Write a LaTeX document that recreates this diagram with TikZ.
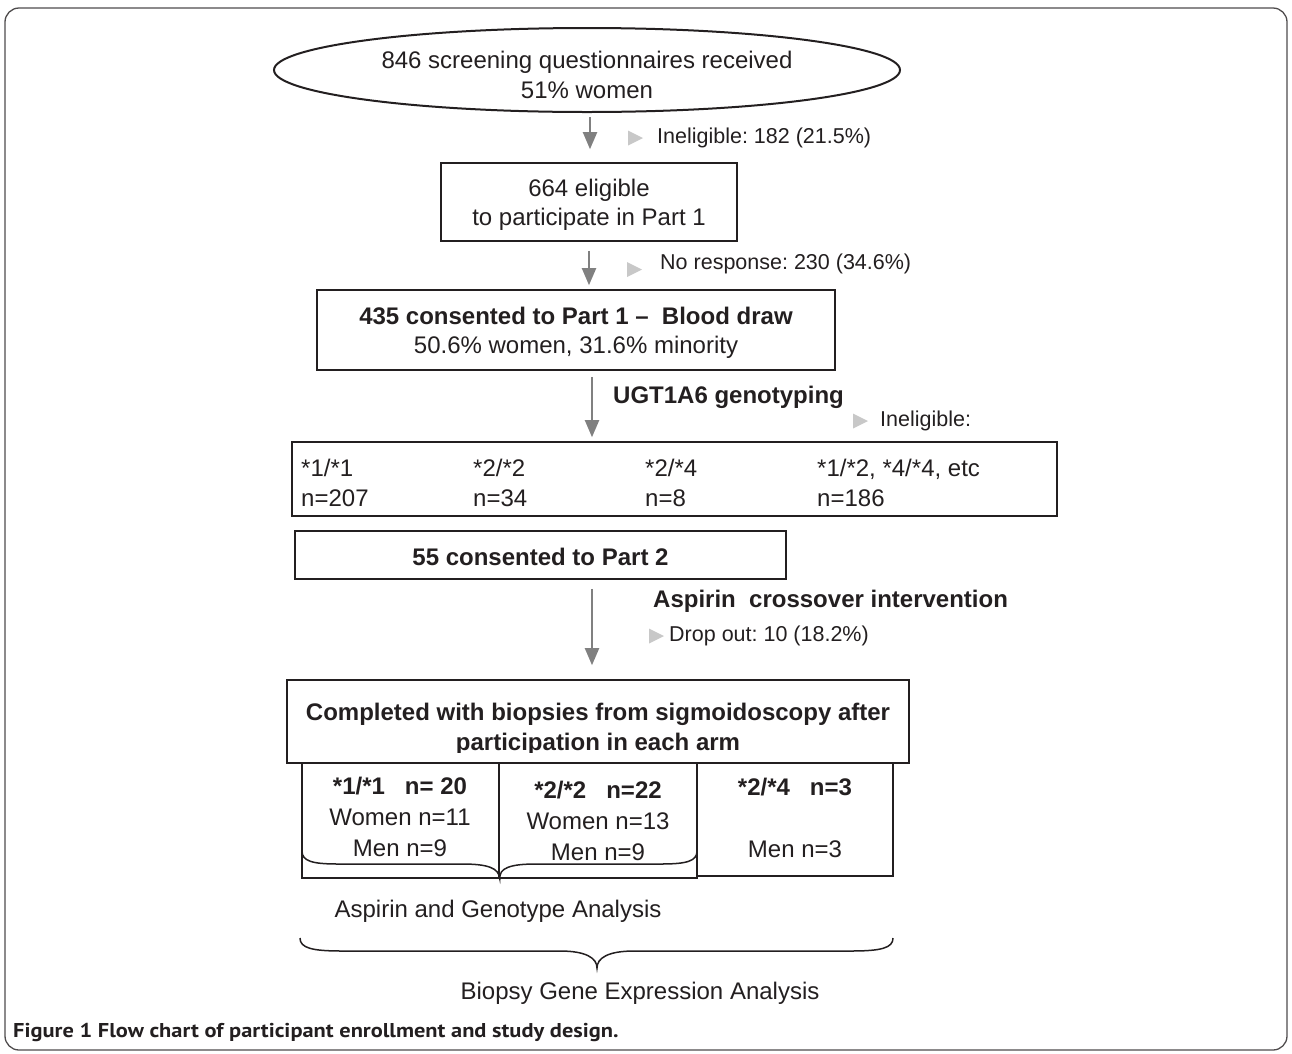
\documentclass[tikz,border=0pt]{standalone}
\usepackage{fontspec}
\setmainfont{Liberation Sans}
\newfontfamily\capfont{PT Sans}
\usetikzlibrary{arrows.meta,shapes.geometric}
\definecolor{ink}{RGB}{35,31,32}
\definecolor{arrowgray}{RGB}{128,128,128}
\definecolor{markgray}{RGB}{200,200,200}
\frenchspacing
\begin{document}
\begin{tikzpicture}[x=1pt,y=-1pt,
  every node/.style={text=ink},
  txt/.style={inner sep=0pt,font=\fontsize{24}{30}\selectfont},
  small/.style={inner sep=0pt,font=\fontsize{21.5}{26}\selectfont},
  boxed/.style={draw=ink,line width=1.6pt,inner sep=0pt},
  garrow/.style={draw=arrowgray,line width=2pt,-{Triangle[width=14pt,length=17pt]}},
  marker/.style={fill=markgray,draw=none},
  bracepath/.style={draw=ink,line width=1.5pt}
]
\useasboundingbox (0,0) rectangle (1292,1053);
% outer frame
\draw[draw=ink!80,line width=1.3pt,rounded corners=14pt] (5,8) rectangle (1287,1050);

% ellipse
\node[ellipse,draw=ink,line width=2pt,inner sep=0pt,minimum width=626pt,minimum height=84pt] (ell) at (587,70) {};
\node[txt,align=center] (ellt) at (587,75) {846 screening questionnaires received\\51\% women};

% box 2
\node[boxed,minimum width=296pt,minimum height=78pt] (b2) at (589,202) {};
\node[txt,align=center,font=\fontsize{24}{29}\selectfont] (b2t) at (589,205) {664 eligible\\to participate in Part 1};
% box 3
\node[boxed,minimum width=518pt,minimum height=80pt] (b3) at (576,330) {};
\node[txt,align=center,font=\fontsize{24}{29}\selectfont] (b3t) at (576,333) {\textbf{435 consented to Part 1 \textendash\ \ Blood draw}\\50.6\% women, 31.6\% minority};
% box 4
\node[boxed,minimum width=765pt,minimum height=74pt] (b4) at (674.5,479) {};
\node[txt,anchor=west,align=left,font=\fontsize{24}{29.5}\selectfont] (g1) at (301,483) {*1/*1\\n=207};
\node[txt,anchor=west,align=left,font=\fontsize{24}{29.5}\selectfont] (g2) at (473,483) {*2/*2\\n=34};
\node[txt,anchor=west,align=left,font=\fontsize{24}{29.5}\selectfont] (g3) at (645,483) {*2/*4\\n=8};
\node[txt,anchor=west,align=left,font=\fontsize{24}{29.5}\selectfont] (g4) at (817,483) {*1/*2, *4/*4, etc\\n=186};
% box 5
\node[boxed,minimum width=491pt,minimum height=48pt] (b5) at (540.5,555) {};
\node[txt,font=\fontsize{24}{29}\selectfont\bfseries] (b5t) at (540.5,557) {55 consented to Part 2};
% box 6
\node[boxed,minimum width=622pt,minimum height=83pt] (b6) at (598,721.5) {};
\begin{scope}
  \clip (b6.north west) rectangle (b6.east |- 0,752);
  \node[txt,align=center,font=\fontsize{24}{30}\selectfont\bfseries] (b6t) at (598,729) {Completed with biopsies from sigmoidoscopy after\\participation in each arm};
\end{scope}
% sub boxes
\node[boxed,minimum width=197pt,minimum height=115pt] (sa) at (400.5,820.5) {};
\node[boxed,minimum width=198pt,minimum height=115pt] (sb) at (598,820.5) {};
\node[boxed,minimum width=196pt,minimum height=113pt] (sc) at (795,819.5) {};
\node[txt,align=center,font=\fontsize{24}{31}\selectfont] (ta) at (400,817) {\textbf{*1/*1\ \ \ n= 20}\\Women n=11\\Men n=9};
\node[txt,align=center,font=\fontsize{24}{31}\selectfont] (tb) at (598,821) {\textbf{*2/*2\ \ \ n=22}\\Women n=13\\Men n=9};
\node[txt,align=center,font=\fontsize{24}{31}\selectfont] (tc) at (795,818) {\textbf{*2/*4\ \ \ n=3}\\[31pt]Men n=3};

% arrows
\coordinate (x1) at (590,0);
\coordinate (x2) at (589,0);
\coordinate (x3) at (592,0);
\draw[garrow,shorten <=4pt,shorten >=13pt] (ell.south -| x1) -- (b2.north -| x1);
\draw[garrow,shorten <=9pt,shorten >=4pt] (b2.south -| x2) -- (b3.north -| x2);
\draw[garrow,shorten <=6pt,shorten >=4pt] (b3.south -| x3) -- (b4.north -| x3);
\draw[garrow,shorten <=9pt,shorten >=14pt] (b5.south -| x3) -- (b6.north -| x3);

% side labels
\node[small,anchor=west] (l1) at (657,138) {Ineligible: 182 (21.5\%)};
\fill[marker] ([xshift=-29pt,yshift=-7.5pt]l1.west) -- ([xshift=-29pt,yshift=7.5pt]l1.west) -- ([xshift=-14pt]l1.west) -- cycle;
\node[small,anchor=west] (l2) at (660,264) {No response: 230 (34.6\%)};
\fill[marker] ([xshift=-33pt,yshift=-13pt]l2.west) -- ([xshift=-33pt,yshift=2pt]l2.west) -- ([xshift=-18pt,yshift=-5.5pt]l2.west) -- cycle;
\node[txt,anchor=west,font=\fontsize{24}{30}\selectfont\bfseries] (l3) at (613,397) {UGT1A6 genotyping};
\node[small,anchor=west] (l4) at (880,421) {Ineligible:};
\fill[marker] ([xshift=-27pt,yshift=-7.5pt]l4.west) -- ([xshift=-27pt,yshift=7.5pt]l4.west) -- ([xshift=-12pt]l4.west) -- cycle;
\node[txt,anchor=west,font=\fontsize{24}{30}\selectfont\bfseries] (l5) at (653,601) {Aspirin\ \ crossover intervention};
\node[small,anchor=west] (l6) at (669,636) {Drop out: 10 (18.2\%)};
\fill[marker] ([xshift=-20pt,yshift=-7.5pt]l6.west) -- ([xshift=-20pt,yshift=7.5pt]l6.west) -- ([xshift=-5pt]l6.west) -- cycle;

% small brace
\draw[bracepath] (302,851) .. controls (302,861) and (312,864) .. (338,864) -- (462,864) .. controls (488,864) and (499,868) .. (sa.south east) .. controls (499,868) and (510,864) .. (536,864) -- (661,864) .. controls (687,864) and (697,861) .. (697,851);
\node[txt] (an1) at (498,911) {Aspirin and Genotype Analysis};
% big brace
\draw[bracepath] (300,938) .. controls (300,948) and (312,951) .. (342,951) -- (560,951) .. controls (586,951) and (597,958) .. (597,968) .. controls (597,958) and (608,951) .. (634,951) -- (851,951) .. controls (881,951) and (893,948) .. (893,938);
\node[txt] (an2) at (640,993) {Biopsy Gene Expression Analysis};

% caption
\node[inner sep=0pt,anchor=west,font=\capfont\fontsize{20}{22}\selectfont\bfseries] (cap) at (13,1032) {\scalebox{1.12}[1]{Figure 1 Flow chart of participant enrollment and study design.}};
\end{tikzpicture}
\end{document}
